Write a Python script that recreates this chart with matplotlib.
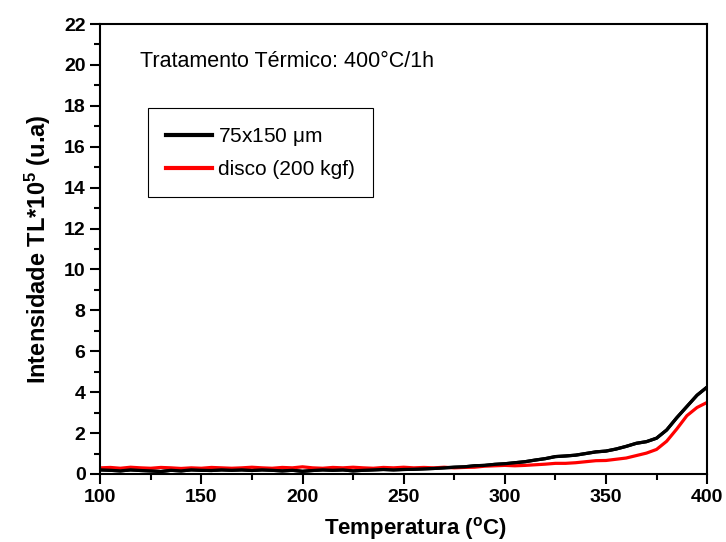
import numpy as np
import matplotlib.pyplot as plt

plt.rcParams['font.family'] = ['Liberation Sans', 'DejaVu Sans']

# temperatura (C)
temp = list(range(100, 401, 5))

# 75x150 um
preto = [0.20, 0.18, 0.15, 0.20, 0.17, 0.15, 0.12, 0.18, 0.15, 0.20,
         0.18, 0.17, 0.20, 0.18, 0.20, 0.17, 0.20, 0.18, 0.15, 0.18,
         0.13, 0.17, 0.20, 0.18, 0.20, 0.15, 0.18, 0.20, 0.22, 0.20,
         0.22, 0.23, 0.25, 0.27, 0.30, 0.33, 0.35, 0.40, 0.42, 0.47,
         0.50, 0.55, 0.60, 0.68, 0.75, 0.85, 0.88, 0.92, 1.00, 1.08,
         1.12, 1.22, 1.35, 1.50, 1.58, 1.75, 2.15, 2.75, 3.30, 3.85,
         4.25]

# disco (200 kgf)
vermelho = [0.30, 0.32, 0.28, 0.33, 0.30, 0.28, 0.32, 0.30, 0.27, 0.30,
            0.28, 0.32, 0.30, 0.28, 0.30, 0.33, 0.30, 0.28, 0.32, 0.30,
            0.35, 0.30, 0.28, 0.32, 0.30, 0.33, 0.30, 0.28, 0.32, 0.30,
            0.33, 0.30, 0.32, 0.30, 0.33, 0.30, 0.32, 0.33, 0.38, 0.40,
            0.42, 0.40, 0.42, 0.45, 0.48, 0.52, 0.52, 0.55, 0.60, 0.65,
            0.66, 0.72, 0.78, 0.90, 1.02, 1.20, 1.60, 2.20, 2.85, 3.25,
            3.50]

fig = plt.figure(figsize=(7.26, 5.42), dpi=100)
ax = fig.add_axes([0.138, 0.1255, 0.836, 0.8302])

ax.plot(temp, preto, color='black', lw=2.3, label=r'75x150 $\mathregular{\mu}$m')
ax.plot(temp, vermelho, color='red', lw=2.3, label='disco (200 kgf)')
ax.plot(temp, preto, color='black', lw=2.3)

ax.set_xlim(100, 400)
ax.set_ylim(0, 22)
ax.set_xticks(np.arange(100, 401, 50))
ax.set_xticks(np.arange(125, 400, 50), minor=True)
ax.set_yticks(np.arange(0, 23, 2))
ax.set_yticks(np.arange(1, 22, 2), minor=True)
ax.tick_params(which='major', direction='out', length=7, width=1.5,
               labelsize=14, top=False, right=False)
ax.tick_params(which='minor', direction='out', length=4, width=1.5,
               top=False, right=False)
for lb in ax.get_xticklabels() + ax.get_yticklabels():
    lb.set_fontweight('bold')
for s in ax.spines.values():
    s.set_linewidth(1.5)

ax.set_xlabel(r'Temperatura ($\mathregular{^o}$C)', fontsize=16, fontweight='bold')
ax.xaxis.set_label_coords(0.52, -0.092)
ax.set_ylabel(r'Intensidade TL*10$\mathregular{^5}$ (u.a)', fontsize=17, fontweight='bold', labelpad=8)

ax.text(0.066, 0.916, 'Tratamento Térmico: 400°C/1h', transform=ax.transAxes,
        fontsize=15.5, va='center', ha='left')

leg = ax.legend(loc='upper left', bbox_to_anchor=(0.079, 0.813), borderaxespad=0,
                fontsize=15, fancybox=False, edgecolor='black', framealpha=1,
                handlelength=2.2, borderpad=0.85, labelspacing=0.6, handletextpad=0.3)
leg.get_frame().set_linewidth(0.8)
for h in leg.get_lines():
    h.set_linewidth(3)

fig.savefig('out.png', dpi=100)
